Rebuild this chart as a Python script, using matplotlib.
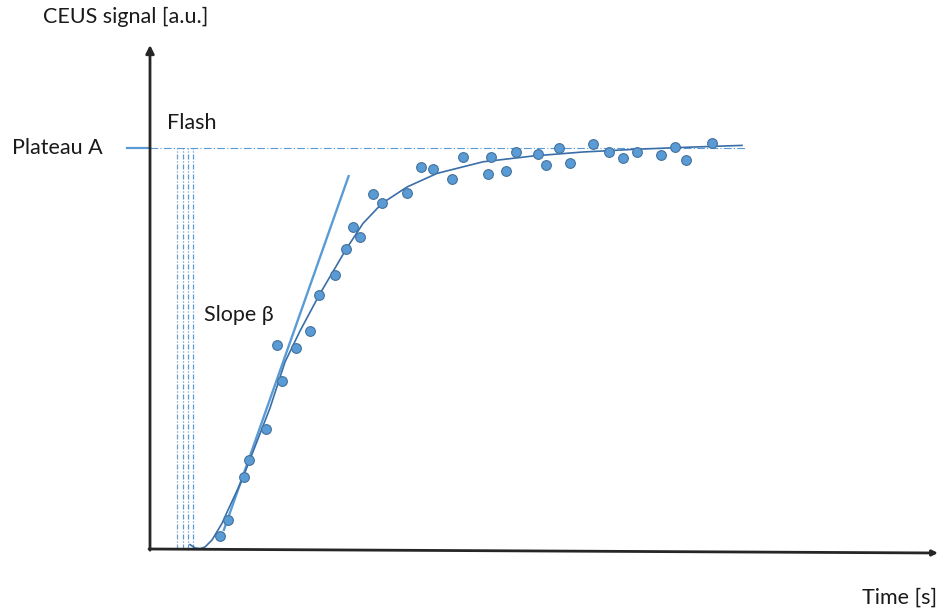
import matplotlib
matplotlib.use("Agg")
import matplotlib.pyplot as plt

plt.rcParams['font.family'] = ['Lato', 'DejaVu Sans']

# measured samples (time, signal)
sample_t = [7.0, 7.8, 9.4, 9.9, 11.6, 12.7, 13.2, 14.6, 16.0, 16.9, 18.5, 19.6, 20.3, 21.0,
            22.3, 23.2, 25.7, 27.1, 28.3, 30.2, 31.3, 33.8, 34.1, 35.6, 36.6, 38.8, 39.6,
            40.9, 42.0, 44.3, 45.9, 47.3, 48.7, 51.1, 52.5, 53.6, 56.2]
sample_s = [3.3, 7.3, 18.1, 22.2, 29.9, 51.0, 42.0, 50.3, 54.5, 63.4, 68.5, 74.9, 80.4, 78.1,
            88.8, 86.4, 89.1, 95.4, 95.1, 92.5, 98.0, 93.8, 98.0, 94.5, 99.3, 98.7, 96.1,
            100.3, 96.4, 101.2, 99.3, 97.7, 99.2, 98.6, 100.6, 97.3, 101.5]

# fitted curve
fit_t = [4.0, 4.5, 5.0, 5.5, 6.2, 7.2, 7.8, 9.2, 10.5, 12.0, 13.5, 15.0, 16.9, 19.6, 21.3,
         23.2, 25.7, 28.7, 33.3, 38.3, 43.3, 48.3, 53.3, 59.2]
fit_s = [1.1, 0.25, 0.1, 0.5, 2.25, 6.4, 9.75, 17.25, 25.6, 35.25, 46.75, 54.5, 63.4, 74.9,
         81.4, 86.4, 90.5, 93.9, 96.8, 98.25, 99.25, 99.9, 100.4, 100.9]

# tangent (slope beta)
tangent_t = [7.35, 19.9]
tangent_s = [4.5, 93.5]

plateau = 100.2
plateau_end = 59.5
flash_t = [2.67, 3.27, 3.83, 4.33]

fig = plt.figure(figsize=(9.39, 6.11), dpi=100)
ax = fig.add_axes([0, 0, 1, 1])
ax.set_xlim(-15, 78.9)
ax.set_ylim(-15.5, 137.25)
ax.axis('off')

blue = '#5B9BD5'
dark = '#3A6EA8'
axc = '#262626'

# flash lines
flash_colors = ['#7F9FC0', blue, blue, blue]
for ft, c in zip(flash_t, flash_colors):
    ax.plot([ft, ft], [0, plateau], color=c, lw=0.9, ls=(0, (4, 1.5, 1, 1.5)))

# plateau lines
ax.plot([0, plateau_end], [plateau, plateau], color=blue, lw=0.8, ls=(0, (7, 2, 1, 2)))
ax.plot([-2.3, 0], [plateau, plateau], color=blue, lw=1.6)

# axes with arrows
ax.annotate('', xy=(0, 126), xytext=(0, -0.3),
            arrowprops=dict(arrowstyle='-|>', color=axc, lw=2, mutation_scale=12,
                            shrinkA=0, shrinkB=0))
ax.annotate('', xy=(78.8, -1.0), xytext=(-0.1, 0),
            arrowprops=dict(arrowstyle='-|>', color=axc, lw=2, mutation_scale=8,
                            shrinkA=0, shrinkB=0))

# tangent and curve
ax.plot(tangent_t, tangent_s, color=blue, lw=1.7, solid_capstyle='butt')
ax.plot(fit_t, fit_s, color=dark, lw=1.2)

# samples
ax.plot(sample_t, sample_s, 'o', ms=7.0, mfc=blue, mec='#41719C', mew=0.8, zorder=5)

fs = 15.5
tc = '#1a1a1a'
ax.text(-2.4, 133.0, 'CEUS signal [a.u.]', fontsize=fs, ha='center', va='center', color=tc)
ax.text(-13.8, plateau, 'Plateau A', fontsize=fs, ha='left', va='center', color=tc)
ax.text(1.7, 106.5, 'Flash', fontsize=fs, ha='left', va='center', color=tc)
ax.text(5.4, 58.5, 'Slope β', fontsize=fs, ha='left', va='center', color=tc)
ax.text(78.7, -12.25, 'Time [s]', fontsize=fs, ha='right', va='center', color=tc)

fig.savefig('out.png', dpi=100)
